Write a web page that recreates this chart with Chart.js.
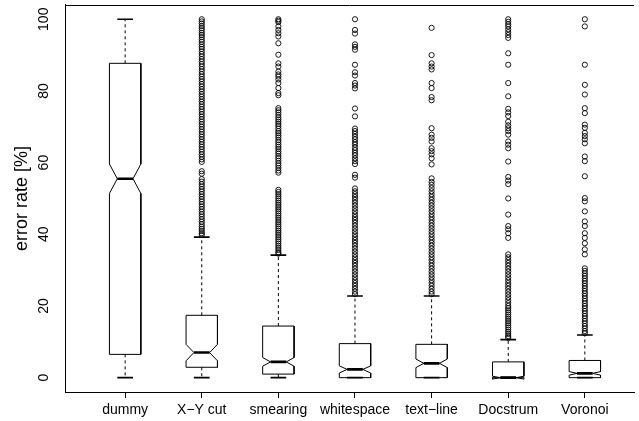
<!DOCTYPE html>
<html><head><meta charset="utf-8">
<script src="https://cdn.jsdelivr.net/npm/chart.js@4.4.1/dist/chart.umd.min.js"></script>
<style>html,body{margin:0;padding:0;background:#fff;} #wrap{width:639px;height:421px;position:relative;}</style>
</head><body><div id="wrap"><canvas id="c"></canvas></div>
<script>
const categories = ['dummy', 'X\u2212Y cut', 'smearing', 'whitespace', 'text\u2212line', 'Docstrum', 'Voronoi'];
const yTicks = [0, 20, 40, 60, 80, 100];

const whiskerLow  = [0, 0, 0, 0, 0, 0, 0];
const q1          = [6.5, 2.9, 1.0, 0, 0, 0, 0];
const notchLow    = [51.4, 4.7, 3.2, 1.3, 2.8, -0.4, 0.7];
const median      = [55.5, 7.0, 4.4, 2.3, 4.0, 0, 1.2];
const notchHigh   = [59.6, 9.3, 5.6, 3.3, 5.2, 0.4, 1.7];
const q3          = [87.7, 17.4, 14.4, 9.5, 9.3, 4.4, 4.8];
const whiskerHigh = [100, 39.2, 34.2, 22.8, 22.8, 10.6, 11.9];

const dummyOut = [];
const xyCutOut = [100, 99.4, 98.8, 98.1, 97.5, 96.9, 96.2, 95.6, 95, 94.3, 93.7, 93, 92.3, 91.7, 91, 90.3, 89.6, 88.9, 88.2, 87.5, 86.8, 86.1, 85.4, 84.7, 84, 83.3, 82.6, 81.9, 81.2, 80.5, 79.8, 79.1, 78.4, 77.7, 77, 76.3, 75.6, 74.9, 74.2, 73.5, 72.8, 72.1, 71.4, 70.7, 70, 69.3, 68.6, 67.9, 67.2, 66.5, 65.8, 65.1, 64.4, 63.7, 63, 62.3, 61.6, 60.9, 60.2, 57.6, 56.9, 55.4, 54.7, 54, 53.3, 52.6, 51.9, 51.2, 50.5, 49.8, 49.1, 48.4, 47.7, 47, 46.3, 45.6, 44.9, 44.2, 43.5, 42.8, 42.1, 41.5, 40.9, 40.3, 39.8];
const smearingOut = [100, 99.6, 99.2, 98, 97, 96.1, 95.2, 93.3, 90.1, 87.7, 86.8, 85.4, 84.6, 84, 83.2, 82.2, 80.8, 79.4, 78.8, 75.2, 74.6, 74, 73.3, 72.6, 72, 71.4, 70.8, 70.2, 69.5, 68.8, 68.2, 67.6, 67, 66.3, 65.7, 65, 64.4, 63.8, 63.1, 62.5, 61.8, 61.2, 60.5, 59.8, 59.2, 58.5, 57.8, 57.2, 52.4, 51.8, 51.2, 50.6, 50, 49.4, 48.8, 48.2, 47.6, 47, 46.4, 45.8, 45.2, 44.6, 44, 43.4, 42.8, 42.2, 41.6, 41, 40.4, 39.8, 39.2, 38.6, 38, 37.4, 36.8, 36.2, 35.6, 35, 34.6];
const whitespaceOut = [100, 97, 96, 93, 92.3, 91.5, 87.3, 85.2, 84.3, 82.2, 81.5, 80.7, 75.1, 72.9, 69.5, 68.8, 68, 67.2, 66.5, 65.7, 65, 64.2, 63.5, 62.7, 62, 61.2, 60.4, 59.6, 56.6, 55.8, 52.8, 52, 51.2, 50.4, 49.6, 48.8, 48, 47.2, 46.4, 45.6, 44.8, 44, 43.2, 42.4, 41.6, 40.8, 40, 39.2, 38.4, 37.6, 36.8, 36, 35.2, 34.4, 33.6, 32.8, 32, 31.2, 30.4, 29.6, 28.8, 28, 27.2, 26.4, 25.6, 24.8, 24, 23.3];
const textLineOut = [97.6, 90, 87.7, 86.8, 86, 82.2, 80.8, 78.3, 77.4, 69.6, 67.8, 66.9, 65.9, 64, 63.2, 62.3, 61.2, 59.5, 55.6, 54.6, 53.8, 52.9, 52, 51.2, 50.4, 49.6, 48.8, 48, 47.2, 46.4, 45.6, 44.8, 44, 43.2, 42.4, 41.6, 40.8, 40, 39.2, 38.4, 37.6, 36.8, 36, 35.2, 34.4, 33.6, 32.8, 32, 31.2, 30.4, 29.6, 28.8, 28, 27.2, 26.4, 25.6, 24.8, 24, 23.3];
const docstrumOut = [100, 99.3, 98.6, 98, 97.2, 96.4, 95.6, 94.8, 90.5, 87.3, 82.2, 78.5, 75, 74, 73, 71.4, 70.4, 69.6, 68.8, 67.8, 65.9, 65, 64, 60.3, 56, 55, 54, 50, 45.5, 42.3, 41.4, 40.3, 39, 34.4, 33.6, 32.8, 32, 31.2, 30.4, 29.6, 28.8, 28, 27.2, 26.4, 25.6, 24.8, 24, 23.2, 22.4, 21.6, 20.8, 20, 19.4, 18.8, 18.2, 17.6, 17, 16.4, 15.8, 15.2, 14.6, 14, 13.4, 12.8, 12.2, 11.6, 11.1];
const voronoiOut = [100, 98, 87.3, 81.7, 79, 75.2, 73.8, 70.6, 69.7, 68.3, 67.4, 66.5, 65.4, 61.7, 60.4, 56.2, 50.1, 49.2, 46.4, 43.6, 42.3, 40.3, 39, 37.5, 35.8, 34.4, 30.5, 29.8, 29.1, 28.4, 27.7, 27, 26.3, 25.6, 24.9, 24.2, 23.5, 22.8, 22.1, 21.4, 20.7, 20, 19.3, 18.6, 17.9, 17.2, 16.5, 15.8, 15.1, 14.4, 13.7, 13, 12.4];
const outliers = [dummyOut, xyCutOut, smearingOut, whitespaceOut, textLineOut, docstrumOut, voronoiOut];

const BOX_HALF = 0.205, NOTCH_HALF = 0.1025, CAP_HALF = 0.1025;

const boxPts = [], medPts = [], whiskPts = [], capPts = [], outPts = [];
categories.forEach((c, i) => {
  const x = i + 1, l = x - BOX_HALF, r = x + BOX_HALF, ml = x - NOTCH_HALF, mr = x + NOTCH_HALF;
  boxPts.push({x: l, y: q1[i]}, {x: l, y: notchLow[i]}, {x: ml, y: median[i]}, {x: l, y: notchHigh[i]},
    {x: l, y: q3[i]}, {x: r, y: q3[i]}, {x: r, y: notchHigh[i]}, {x: mr, y: median[i]},
    {x: r, y: notchLow[i]}, {x: r, y: q1[i]}, {x: l, y: q1[i]}, {x: x, y: null});
  medPts.push({x: ml, y: median[i]}, {x: mr, y: median[i]}, {x: x, y: null});
  whiskPts.push({x: x, y: q3[i]}, {x: x, y: whiskerHigh[i]}, {x: x, y: null},
    {x: x, y: q1[i]}, {x: x, y: whiskerLow[i]}, {x: x, y: null});
  capPts.push({x: x - CAP_HALF, y: whiskerHigh[i]}, {x: x + CAP_HALF, y: whiskerHigh[i]}, {x: x, y: null},
    {x: x - CAP_HALF, y: whiskerLow[i]}, {x: x + CAP_HALF, y: whiskerLow[i]}, {x: x, y: null});
  outliers[i].forEach(v => outPts.push({x: x, y: v}));
});

const lineDs = (data, width, dash) => ({
  type: 'scatter', data, showLine: true, spanGaps: false, borderColor: '#000', borderWidth: width,
  borderDash: dash || [], pointRadius: 0, tension: 0, fill: false, borderCapStyle: 'butt'
});

const framePlugin = {
  id: 'frame',
  afterDatasetsDraw(chart) {
    const {ctx, chartArea: a} = chart;
    ctx.save();
    ctx.strokeStyle = '#000'; ctx.lineWidth = 1;
    ctx.beginPath(); ctx.moveTo(a.left, Math.round(a.top) + 0.5); ctx.lineTo(a.right, Math.round(a.top) + 0.5); ctx.stroke();
    ctx.restore();
  }
};

new Chart(document.getElementById('c'), {
  type: 'scatter',
  data: { datasets: [
    lineDs(whiskPts, 1, [3, 3]),
    lineDs(capPts, 1.6),
    lineDs(boxPts, 1),
    lineDs(medPts, 2.6),
    { type: 'scatter', data: outPts, showLine: false, pointStyle: 'circle', pointRadius: 2.6,
      pointBorderWidth: 0.9, borderColor: '#000', backgroundColor: 'rgba(0,0,0,0)', pointBackgroundColor: 'rgba(0,0,0,0)', pointBorderColor: '#000' }
  ]},
  options: {
    responsive: true, maintainAspectRatio: false, animation: false, events: [], devicePixelRatio: 1,
    layout: { padding: { top: 3, left: 0, right: 0, bottom: 0 } },
    plugins: { legend: { display: false }, tooltip: { enabled: false } },
    scales: {
      x: {
        type: 'linear', min: 0.215, max: 7.643,
        afterBuildTicks: s => { s.ticks = categories.map((c, i) => ({ value: i + 1 })); },
        afterFit: s => { s.height = 29; s.paddingLeft = 0; s.paddingRight = 0; },
        grid: { display: true, drawOnChartArea: false, drawTicks: true, tickLength: 6, color: '#000', lineWidth: 1 },
        border: { display: true, color: '#000', width: 1 },
        ticks: { autoSkip: false, maxRotation: 0, minRotation: 0, padding: 4, color: '#000',
          font: { family: 'Liberation Sans, Arial, sans-serif', size: 14 },
          callback: v => categories[Math.round(v) - 1] }
      },
      y: {
        type: 'linear', min: -4, max: 104,
        afterBuildTicks: s => { s.ticks = yTicks.map(v => ({ value: v })); },
        afterFit: s => { s.width = 65; s.paddingTop = 0; s.paddingBottom = 0; },
        grid: { display: false, drawTicks: false },
        border: { display: true, color: '#000', width: 1 },
        ticks: { minRotation: 90, maxRotation: 90, crossAlign: 'center', padding: 9, color: '#000',
          font: { family: 'Liberation Sans, Arial, sans-serif', size: 14 } },
        title: { display: true, text: 'error rate [%]', color: '#000', padding: { top: 11, bottom: 0 },
          font: { family: 'Liberation Sans, Arial, sans-serif', size: 18 } }
      }
    }
  },
  plugins: [framePlugin]
});
</script></body></html>
